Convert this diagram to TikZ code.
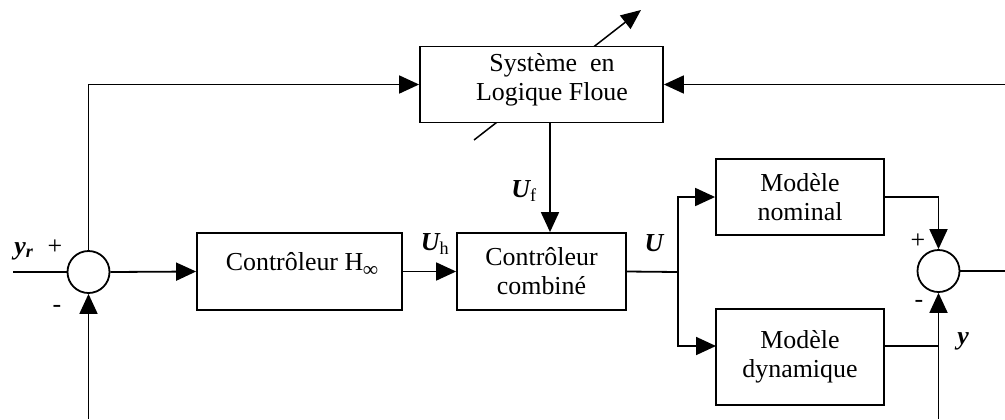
\documentclass[tikz,border=0pt]{standalone}
\usepackage{fontspec}
\setmainfont{Liberation Serif}
\usetikzlibrary{arrows.meta,calc}
\begin{document}
\begin{tikzpicture}[x=1bp,y=-1bp,
  every node/.style={font=\fontsize{26}{29}\selectfont},
  blk/.style={draw,line width=1.8bp,fill=white,inner sep=0pt,align=center},
  sumc/.style={draw,circle,line width=1.8bp,minimum size=42bp,inner sep=0pt,fill=white},
  wire/.style={line width=1.8bp},
  arr/.style={wire,-{Triangle[length=20bp,width=18bp]}},
  lbl/.style={inner sep=0pt,font=\fontsize{26}{29}\selectfont\bfseries\itshape},
  sgn/.style={inner sep=0pt,font=\fontsize{26}{29}\selectfont}]
\useasboundingbox (0,0) rectangle (1005,419);

% adjustment arrow through the fuzzy block (drawn first, hidden by the block)
\coordinate (adjA) at (474,140);
\coordinate (adjB) at (641,10);
\draw[line width=1.5bp,-{Triangle[length=20bp,width=17bp]}] (adjA) -- (adjB);

% blocks
\node[blk,minimum width=243bp,minimum height=76bp] (fls) at (541.5,84.5) {};
\node[align=center,inner sep=0pt] (flst) at (552,80) {Système\ \ en\\Logique Floue};
\node[blk,minimum width=205bp,minimum height=77bp] (hinf) at (299.5,271.5) {};
\node[inner sep=0pt] (hinft) at (302,264) {Contrôleur H\raisebox{-6bp}{\fontsize{21}{21}\selectfont\itshape ∞}};
\node[blk,minimum width=169bp,minimum height=77bp] (comb) at (541.5,271.5) {Contrôleur\\combiné};
\node[blk,minimum width=168bp,minimum height=76bp] (nom) at (800,197) {Modèle\\nominal};
\node[blk,minimum width=168bp,minimum height=96bp] (dyn) at (800,357) {Modèle\\dynamique};

% summing junctions
\node[sumc] (s1) at (88.5,272) {};
\node[sumc] (s2) at (938.5,271) {};

% free ends and branch points
\coordinate (yin) at (13,272);
\coordinate (lb) at (88.5,419);
\coordinate (br) at (678,272);
\coordinate (dynin) at (716,346);
\coordinate (dynout) at (884,346);
\coordinate (rb) at (938.5,419);
\coordinate (rout) at (1005,271);
\coordinate (rt) at (1005,84.5);

% connectors
\draw[wire] (yin) -- (s1.west);
\draw[arr] (s1.east) -- (hinf.west);
\draw[arr] (hinf.east) -- (comb.west);
\draw[wire] (comb.east) -- (br);
\draw[arr] (br) |- (nom.west);
\draw[arr] (br) |- (dynin);
\draw[arr] (nom.east) -| (s2.north);
\draw[wire] (dynout) -- (dynout -| s2);
\draw[arr] (rb) -- (s2.south);
\draw[wire] (s2.east) -- (rout);
\draw[arr] (rt) -- (fls.east);
\draw[arr] (s1.north) |- (fls.west);
\draw[arr] (lb) -- (s1.south);
\draw[arr] ([xshift=8.5bp]fls.south) -- ([xshift=8.5bp]comb.north);

% labels
\node[lbl] (lyr) at (24,251) {y\textsubscript{r}};
\node[sgn] (p1) at (55,247) {+};
\node[sgn] (m1) at (57,309) {-};
\node[sgn] (p2) at (918,241) {+};
\node[sgn] (m2) at (919,304) {-};
\node[lbl] (luh) at (435,244) {U\textsubscript{\normalfont h}};
\node[lbl] (luf) at (524,191) {U\textsubscript{\normalfont f}};
\node[lbl] (lu) at (654,243) {U};
\node[lbl] (ly) at (963,341) {y};
\end{tikzpicture}
\end{document}
